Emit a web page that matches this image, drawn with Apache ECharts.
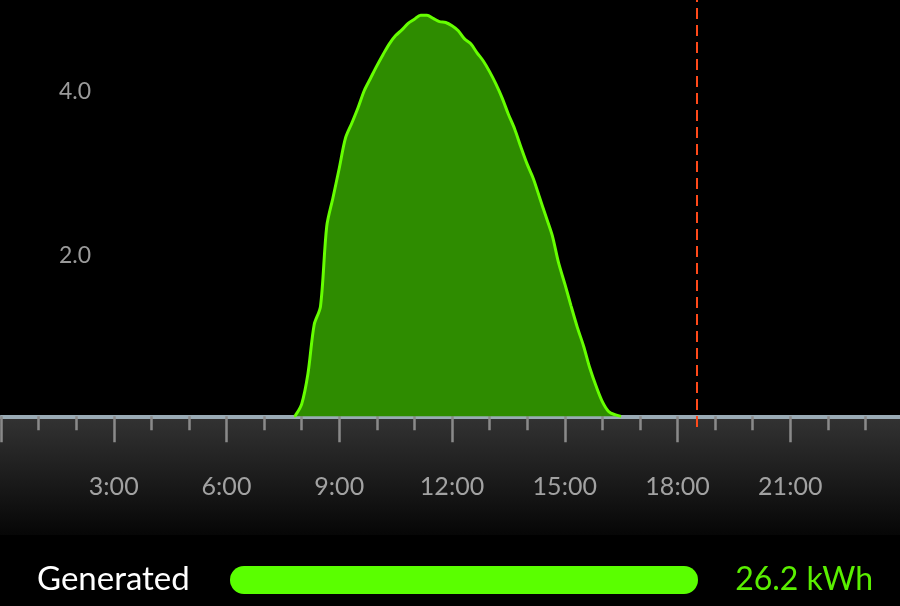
<!DOCTYPE html>
<html>
<head>
<meta charset="utf-8">
<script src="https://cdn.jsdelivr.net/npm/echarts@6/dist/echarts.min.js"></script>
<style>
html,body{margin:0;padding:0;background:#000;}
#chart{width:900px;height:606px;}
</style>
</head>
<body>
<div id="chart"></div>
<script>
// hours of the day (every 10 min) and generated power (kW)
var hours = [7.8, 7.833, 8.0, 8.167, 8.333, 8.5, 8.667, 8.833,
	9.0, 9.167, 9.333, 9.5, 9.667, 9.833, 10.0, 10.167, 10.333, 10.5,
	10.667, 10.833, 11.0, 11.167, 11.333, 11.5, 11.667, 11.833, 12.0, 12.167,
	12.333, 12.5, 12.667, 12.833, 13.0, 13.167, 13.333, 13.5, 13.667, 13.833,
	14.0, 14.167, 14.333, 14.5, 14.667, 14.833, 15.0, 15.167, 15.333, 15.5,
	15.667, 15.833, 16.0, 16.167, 16.333, 16.5];
var power = [0, 0.01, 0.15, 0.52, 1.12, 1.34, 2.32, 2.67,
	3.03, 3.40, 3.58, 3.77, 3.98, 4.13, 4.28, 4.42, 4.55, 4.65,
	4.72, 4.80, 4.85, 4.90, 4.90, 4.86, 4.82, 4.81, 4.77, 4.71,
	4.61, 4.55, 4.44, 4.34, 4.21, 4.06, 3.89, 3.69, 3.51, 3.29,
	3.08, 2.90, 2.67, 2.44, 2.21, 1.88, 1.62, 1.35, 1.09, 0.86,
	0.59, 0.37, 0.18, 0.06, 0.02, 0];
var nowHour = 18.52;          // current time marker
var totalLabel = 'Generated';
var totalKwh = 26.2;
var yTicks = [2, 4];

var seriesData = [];
for (var i = 0; i < hours.length; i++) {
	seriesData.push([hours[i], power[i]]);
}

var font = 'Lato, "Open Sans", sans-serif';
var myChart = echarts.init(document.getElementById('chart'));
var option = {
	backgroundColor: '#000',
	animation: false,
	// grid reaches a little below zero so the time marker runs into the tick band
	grid: {left: 1, width: 902, top: 0, bottom: 179, outerBoundsMode: 'none', containLabel: false},
	xAxis: {
		type: 'value',
		min: 0,
		max: 24,
		interval: 3,
		axisLine: {show: true, onZero: true, lineStyle: {color: '#9aabb5', width: 4}},
		axisTick: {show: true, length: 26, lineStyle: {color: '#8a8a8a', width: 2.5}},
		minorTick: {show: true, splitNumber: 3, length: 14, lineStyle: {color: '#8a8a8a', width: 2.5}},
		splitLine: {show: false},
		axisLabel: {
			margin: 47,
			color: '#a2a2a2',
			fontSize: 25,
			fontFamily: font,
			formatter: function(v){
				return (v > 0 && v < 24) ? v + ':00' : '';
			}
		}
	},
	yAxis: {
		type: 'value',
		min: -0.13,
		max: 5.085,
		axisLine: {show: false},
		axisTick: {show: false},
		splitLine: {show: false},
		axisLabel: {
			inside: true,
			margin: 58,
			customValues: yTicks,
			formatter: function(v){
				return yTicks.indexOf(v) >= 0 ? '{a|' + v.toFixed(1) + '}' : '';
			},
			rich: {
				a: {color: '#9a9a9a', fontSize: 23, fontFamily: font, padding: [6, 0, 0, 0]}
			}
		}
	},
	graphic: [
		{
			type: 'rect',
			z: -10,
			shape: {x: 0, y: 419, width: 900, height: 116},
			style: {
				fill: new echarts.graphic.LinearGradient(0, 0, 0, 1, [
					{offset: 0, color: '#323232'},
					{offset: 1, color: '#060606'}
				])
			}
		},
		{
			type: 'text',
			left: 37,
			top: 563,
			style: {text: totalLabel, fill: '#ffffff', font: '33px ' + font}
		},
		{
			type: 'rect',
			shape: {x: 230, y: 566, width: 468, height: 28, r: 14},
			style: {fill: '#5aff00'}
		},
		{
			type: 'text',
			right: 27,
			top: 564,
			style: {text: totalKwh.toFixed(1) + ' kWh', fill: '#5aee00', font: '32px ' + font}
		}
	],
	series: [{
		type: 'line',
		data: seriesData,
		symbol: 'none',
		smooth: 0.3,
		lineStyle: {color: '#66ff00', width: 3},
		areaStyle: {color: '#2e8c00', opacity: 1},
		markLine: {
			silent: true,
			symbol: ['none', 'none'],
			label: {show: false},
			lineStyle: {color: '#ff4a1a', type: [11, 6], width: 2},
			data: [{xAxis: nowHour}]
		}
	}]
};
myChart.setOption(option);
</script>
</body>
</html>
